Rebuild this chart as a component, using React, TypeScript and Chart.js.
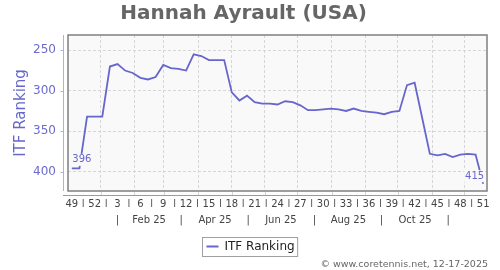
import React, { useEffect, useRef } from 'react';
import { Chart, registerables } from 'chart.js';

Chart.register(...registerables);

// ---------- data ----------
const chartTitle = 'Hannah Ayrault (USA)';
const seriesName = 'ITF Ranking';
const copyrightText = '© www.coretennis.net, 12-17-2025';

// ISO weeks from week 49 of 2024 to week 51 of 2025
const weeks = [
  49, 50, 51, 52, 1, 2, 3, 4, 5, 6, 7, 8, 9, 10, 11, 12, 13, 14, 15, 16, 17, 18, 19, 20, 21, 22, 23, 24,
  25, 26, 27, 28, 29, 30, 31, 32, 33, 34, 35, 36, 37, 38, 39, 40, 41, 42, 43, 44, 45, 46, 47, 48, 49, 50, 51,
];

const ranking = [
  396, 396, 332, 332, 332, 270, 267, 275, 278, 284,
  286, 283, 268, 272, 273, 275, 255, 257, 262, 262,
  262, 302, 312, 306, 314, 316, 316, 317, 313, 314,
  318, 324, 324, 323, 322, 323, 325, 322, 325, 326,
  327, 329, 326, 325, 293, 290, 334, 378, 380, 378,
  382, 379, 378, 379, 415,
];

// position of the 1st of each month of 2025 (Jan..Dec), in week-index units
const monthStarts = [3.8, 8.2, 12.1, 16.6, 21.0, 25.3, 29.6, 34.1, 38.5, 42.8, 47.3, 51.5];
const monthLabels = ['Feb 25', 'Apr 25', 'Jun 25', 'Aug 25', 'Oct 25'];
const weekLabelStep = 3;

const yTicks = [250, 300, 350, 400];
const yMin = 231;
const yMax = 424;

// ---------- styling ----------
const FONT = '"DejaVu Sans", "Noto Sans", sans-serif';
const LINE_COLOR = '#6666cc';
const PLOT_BG = '#f9f9f9';
const GRID_COLOR = '#d6d6d6';

const xMin = -0.5;
const xMax = weeks.length - 0.5;

function weekTicks() {
  const t: { value: number }[] = [];
  for (let i = 0; i < weeks.length; i += weekLabelStep) {
    t.push({ value: i });
    if (i + weekLabelStep < weeks.length) t.push({ value: i + weekLabelStep / 2 });
  }
  t.sort((a, b) => a.value - b.value);
  return t;
}

function monthTicks() {
  const t: { value: number; label: string }[] = [];
  for (let m = 0; m < monthStarts.length - 1; m++) {
    const mid = (monthStarts[m] + monthStarts[m + 1]) / 2;
    const label = m % 2 === 0 ? '|' : monthLabels[(m - 1) / 2];
    if (label !== undefined) t.push({ value: mid, label });
  }
  return t;
}

const decorPlugin = {
  id: 'decor',
  beforeDraw(chart: any) {
    const { ctx, chartArea: a, width, height } = chart;
    ctx.save();
    ctx.fillStyle = '#ffffff';
    ctx.fillRect(0, 0, width, height);
    ctx.fillStyle = PLOT_BG;
    ctx.fillRect(a.left, a.top, a.right - a.left, a.bottom - a.top);
    ctx.restore();
  },
  afterDatasetsDraw(chart: any) {
    const { ctx, chartArea: a } = chart;
    const meta = chart.getDatasetMeta(0);
    const pts = meta.data;
    const data = chart.data.datasets[0].data;
    ctx.save();
    ctx.font = `10px ${FONT}`;
    ctx.textBaseline = 'middle';
    // first point label
    const p0 = pts[0];
    const t0 = String(data[0].y);
    const w0 = ctx.measureText(t0).width;
    const x0 = p0.x + 0.5;
    const y0 = p0.y - 8.5;
    ctx.fillStyle = PLOT_BG;
    ctx.fillRect(x0 - 1, y0 - 6, w0 + 2, 12);
    ctx.fillStyle = LINE_COLOR;
    ctx.textAlign = 'left';
    ctx.fillText(t0, x0, y0);
    // last point label
    const pl = pts[pts.length - 1];
    const tl = String(data[data.length - 1].y);
    const wl = ctx.measureText(tl).width;
    const xl = pl.x + 1;
    const yl = pl.y - 7.5;
    ctx.fillStyle = PLOT_BG;
    ctx.fillRect(xl - wl - 1, yl - 6, wl + 2, 12);
    ctx.fillStyle = LINE_COLOR;
    ctx.textAlign = 'right';
    ctx.fillText(tl, xl, yl);

    // frame
    ctx.strokeStyle = '#7f7f7f';
    ctx.lineWidth = 1.5;
    ctx.strokeRect(a.left, a.top, a.right - a.left, a.bottom - a.top);

    // offset y axis line
    const yScale = chart.scales.y;
    const ax = a.left - 4.5;
    ctx.strokeStyle = '#b0b0e0';
    ctx.lineWidth = 1;
    ctx.beginPath();
    ctx.moveTo(ax, a.top);
    ctx.lineTo(ax, a.bottom);
    yTicks.forEach((v) => {
      const py = Math.round(yScale.getPixelForValue(v)) + 0.5;
      ctx.moveTo(ax - 3, py);
      ctx.lineTo(ax, py);
    });
    ctx.stroke();

    // offset x axis line
    const xg = chart.scales.xg;
    const ay = a.bottom + 4.5;
    ctx.strokeStyle = '#9a9a9a';
    ctx.beginPath();
    ctx.moveTo(a.left - 5, ay);
    ctx.lineTo(a.right, ay);
    ctx.stroke();
    ctx.strokeStyle = GRID_COLOR;
    ctx.beginPath();
    monthStarts.forEach((v) => {
      const px = Math.round(xg.getPixelForValue(v)) + 0.5;
      ctx.moveTo(px, a.bottom + 1);
      ctx.lineTo(px, ay - 0.5);
    });
    ctx.stroke();
    ctx.restore();
  },
  afterDraw(chart: any) {
    const { ctx, chartArea: a, width } = chart;
    const ds = chart.data.datasets[0];
    ctx.save();
    // legend
    ctx.font = `12px ${FONT}`;
    const tw = ctx.measureText(ds.label).width;
    const boxW = 4 + 12 + 6 + tw + 3;
    const boxH = 19;
    const bx = Math.round(width / 2 - boxW / 2) + 0.5;
    const by = 237.5;
    ctx.fillStyle = '#ffffff';
    ctx.fillRect(bx, by, boxW, boxH);
    ctx.strokeStyle = '#a0a0a0';
    ctx.lineWidth = 1;
    ctx.strokeRect(bx, by, boxW, boxH);
    ctx.strokeStyle = ds.borderColor;
    ctx.lineWidth = 2;
    ctx.beginPath();
    ctx.moveTo(bx + 4, by + 9);
    ctx.lineTo(bx + 16, by + 9);
    ctx.stroke();
    ctx.fillStyle = '#222222';
    ctx.textBaseline = 'middle';
    ctx.textAlign = 'left';
    ctx.fillText(ds.label, bx + 22, by + 9.5);
    // copyright
    ctx.font = `9.5px ${FONT}`;
    ctx.fillStyle = '#666666';
    ctx.textAlign = 'right';
    ctx.fillText(copyrightText, a.right + 1, 264.5);
    ctx.restore();
  },
};

export default function App() {
  const canvasRef = useRef<HTMLCanvasElement | null>(null);

  useEffect(() => {
    if (!canvasRef.current) return;
    Chart.defaults.font.family = FONT;
    const mTicks = monthTicks();
    const chart = new Chart(canvasRef.current, {
      type: 'line',
      data: {
        datasets: [
          {
            label: seriesName,
            data: ranking.map((v, i) => ({ x: i, y: v })),
            borderColor: LINE_COLOR,
            backgroundColor: LINE_COLOR,
            borderWidth: 1.8,
            pointRadius: 0,
            tension: 0,
            xAxisID: 'x',
            yAxisID: 'y',
          },
        ],
      },
      options: {
        animation: false,
        responsive: false,
        maintainAspectRatio: false,
        layout: { padding: { left: 0, right: 13, top: 0, bottom: 0 } },
        plugins: {
          legend: { display: false },
          tooltip: { enabled: false },
          title: {
            display: true,
            text: chartTitle,
            color: '#666666',
            font: { size: 20, weight: 'bold', family: FONT },
            padding: { top: 2, bottom: 9 },
          },
        },
        scales: {
          x: {
            type: 'linear',
            position: 'bottom',
            min: xMin,
            max: xMax,
            afterBuildTicks: (s: any) => {
              s.ticks = weekTicks();
            },
            afterFit: (s: any) => {
              s.height = 16;
            },
            grid: { display: false, drawTicks: false },
            border: { display: false },
            ticks: {
              autoSkip: false,
              maxRotation: 0,
              padding: 7.5,
              color: '#444444',
              font: { size: 10 },
              callback: (v: any) => (Number.isInteger(v) ? String(weeks[v]) : '|'),
            },
          },
          x2: {
            type: 'linear',
            position: 'bottom',
            weight: 1,
            min: xMin,
            max: xMax,
            afterBuildTicks: (s: any) => {
              s.ticks = mTicks.map((t) => ({ value: t.value }));
            },
            afterFit: (s: any) => {
              s.height = 63;
            },
            grid: { display: false, drawTicks: false },
            border: { display: false },
            ticks: {
              autoSkip: false,
              maxRotation: 0,
              padding: 7,
              color: '#444444',
              font: { size: 10 },
              callback: (v: any) => {
                const t = mTicks.find((m) => Math.abs(m.value - v) < 1e-6);
                return t ? t.label : '';
              },
            },
          },
          xg: {
            type: 'linear',
            position: 'top',
            min: xMin,
            max: xMax,
            afterBuildTicks: (s: any) => {
              s.ticks = monthStarts.map((v) => ({ value: v }));
            },
            afterFit: (s: any) => {
              s.height = 0;
            },
            grid: { color: GRID_COLOR, drawTicks: false, lineWidth: 1 },
            border: { display: false, dash: [3, 2] },
            ticks: { display: false },
          },
          y: {
            type: 'linear',
            reverse: true,
            min: yMin,
            max: yMax,
            afterBuildTicks: (s: any) => {
              s.ticks = yTicks.map((v) => ({ value: v }));
            },
            afterFit: (s: any) => {
              s.width = 68;
            },
            grid: { color: GRID_COLOR, drawTicks: false, lineWidth: 1 },
            border: { display: false, dash: [3, 2] },
            ticks: {
              padding: 12,
              color: '#6b6bcc',
              font: { size: 12 },
            },
            title: {
              display: true,
              text: seriesName,
              color: '#6666cc',
              font: { size: 15 },
              padding: { top: 12, bottom: 0 },
            },
          },
        },
      },
      plugins: [decorPlugin],
    });
    return () => chart.destroy();
  }, []);

  return (
    <div style={{ position: 'fixed', left: 0, top: 0, width: 500, height: 270 }}>
      <canvas ref={canvasRef} width={500} height={270} />
    </div>
  );
}
